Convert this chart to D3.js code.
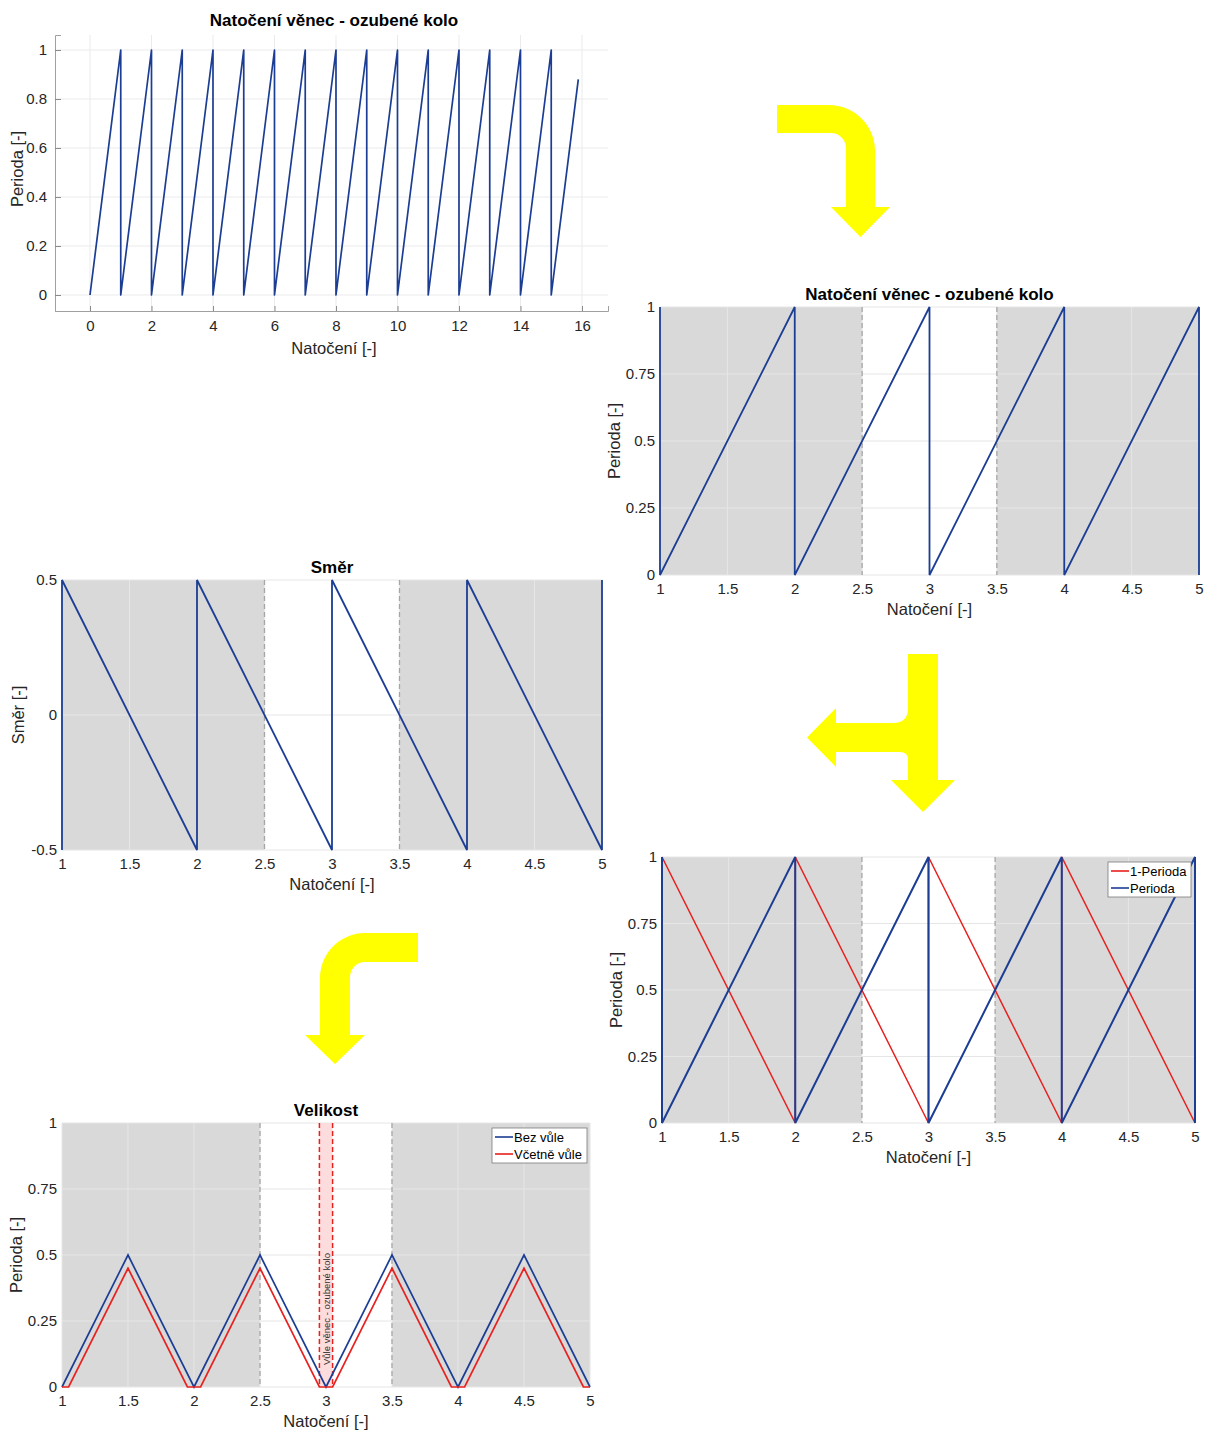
<!DOCTYPE html>
<html>
<head>
<meta charset="utf-8">
<script src="https://cdn.jsdelivr.net/npm/d3@7"></script>
<style>
  body { margin: 0; background: #fff; }
  text { font-family: "Liberation Sans", Arial, sans-serif; }
</style>
</head>
<body>
<svg id="fig" width="1206" height="1435"></svg>
<script>
// ---------- tick values ----------
const rotationTicksLong = [0, 2, 4, 6, 8, 10, 12, 14, 16];
const periodTicksLong = [0, 0.2, 0.4, 0.6, 0.8, 1];
const rotationTicks = [1, 1.5, 2, 2.5, 3, 3.5, 4, 4.5, 5];
const periodTicks = [0, 0.25, 0.5, 0.75, 1];
const directionTicks = [-0.5, 0, 0.5];

// ---------- series (rotation, value) ----------
const periodAll = [
  [0, 0], [1, 1], [1, 0], [2, 1], [2, 0], [3, 1], [3, 0], [4, 1], [4, 0],
  [5, 1], [5, 0], [6, 1], [6, 0], [7, 1], [7, 0], [8, 1], [8, 0], [9, 1], [9, 0],
  [10, 1], [10, 0], [11, 1], [11, 0], [12, 1], [12, 0], [13, 1], [13, 0],
  [14, 1], [14, 0], [15, 1], [15, 0], [15.88, 0.88]
];
const periodWindow = [
  [1, 1], [1, 0], [2, 1], [2, 0], [3, 1], [3, 0], [4, 1], [4, 0], [5, 1], [5, 0]
];
const direction = [
  [1, -0.5], [1, 0.5], [2, -0.5], [2, 0.5], [3, -0.5], [3, 0.5],
  [4, -0.5], [4, 0.5], [5, -0.5], [5, 0.5]
];
const oneMinusPeriod = [
  [1, 0], [1, 1], [2, 0], [2, 1], [3, 0], [3, 1], [4, 0], [4, 1], [5, 0]
];
const magnitudeNoPlay = [
  [1, 0], [1.5, 0.5], [2, 0], [2.5, 0.5], [3, 0], [3.5, 0.5], [4, 0], [4.5, 0.5], [5, 0]
];
const magnitudeWithPlay = [
  [1, 0], [1.05, 0], [1.5, 0.45], [1.95, 0], [2.05, 0], [2.5, 0.45], [2.95, 0],
  [3.05, 0], [3.5, 0.45], [3.95, 0], [4.05, 0], [4.5, 0.45], [4.95, 0], [5, 0]
];

// ---------- regions ----------
const shadedSpans = [[1, 2.5], [3.5, 5]];
const spanEdges = [2.5, 3.5];
const playZone = [2.95, 3.05];

// ---------- styles ----------
const BLUE = "#1b3d93";
const RED = "#e8201e";
const SHADE = "#d9d9d9";
const YELLOW = "#ffff00";
const FONT = '"Liberation Sans", Arial, sans-serif';

const svg = d3.select("#fig");
svg.append("rect").attr("width", 1206).attr("height", 1435).attr("fill", "#fff");

const fmt = d => String(d);

function styleAxis(a, showDomain) {
  a.select(".domain").attr("stroke", showDomain ? "#a0a0a0" : "none");
  a.selectAll(".tick line").attr("stroke", "#8a8a8a");
  a.selectAll("text").attr("fill", "#262626").style("font-size", "15px").style("font-family", FONT);
}

// Windowed panel with shaded spans over rotation 1..5
function panel(cfg) {
  const x = d3.scaleLinear().domain(cfg.xDomain).range([cfg.left, cfg.right]);
  const y = d3.scaleLinear().domain(cfg.yDomain).range([cfg.bottom, cfg.top]);
  const g = svg.append("g");
  const line = d3.line().x(d => x(d[0])).y(d => y(d[1]));

  g.selectAll(".span").data(shadedSpans).join("rect")
    .attr("x", d => x(d[0])).attr("width", d => x(d[1]) - x(d[0]))
    .attr("y", cfg.top).attr("height", cfg.bottom - cfg.top)
    .attr("fill", SHADE);

  g.append("g").selectAll("line").data(cfg.xTicks).join("line")
    .attr("x1", d => x(d)).attr("x2", d => x(d))
    .attr("y1", cfg.top).attr("y2", cfg.bottom)
    .attr("stroke", "#e6e6e6").attr("stroke-width", 1);
  g.append("g").selectAll("line").data(cfg.yTicks).join("line")
    .attr("x1", cfg.left).attr("x2", cfg.right)
    .attr("y1", d => y(d)).attr("y2", d => y(d))
    .attr("stroke", "#e6e6e6").attr("stroke-width", 1);

  g.selectAll(".edge").data(spanEdges).join("line")
    .attr("x1", d => x(d)).attr("x2", d => x(d))
    .attr("y1", cfg.top).attr("y2", cfg.bottom)
    .attr("stroke", "#a6a6a6").attr("stroke-width", 1.3)
    .attr("stroke-dasharray", "5,3");

  const ax = g.append("g").attr("transform", `translate(0,${cfg.bottom})`)
    .call(d3.axisBottom(x).tickValues(cfg.xTicks).tickFormat(fmt).tickSize(0).tickPadding(8));
  const ay = g.append("g").attr("transform", `translate(${cfg.left},0)`)
    .call(d3.axisLeft(y).tickValues(cfg.yTicks).tickFormat(fmt).tickSize(0).tickPadding(5));
  styleAxis(ax, false);
  styleAxis(ay, false);

  g.append("text").attr("x", (cfg.left + cfg.right) / 2).attr("y", cfg.bottom + 40)
    .attr("text-anchor", "middle").attr("fill", "#262626").style("font-size", "16.5px")
    .text(cfg.xLabel);
  g.append("text")
    .attr("transform", `translate(${cfg.left - cfg.yLabelOffset},${(cfg.top + cfg.bottom) / 2}) rotate(-90)`)
    .attr("text-anchor", "middle").attr("fill", "#262626").style("font-size", "16.5px")
    .text(cfg.yLabel);

  if (cfg.title) {
    g.append("text").attr("x", (cfg.left + cfg.right) / 2).attr("y", cfg.titleY)
      .attr("text-anchor", "middle").attr("fill", "#000")
      .style("font-size", "17px").style("font-weight", "bold")
      .text(cfg.title);
  }
  return { g, x, y, line };
}

function legend(g, lx, ly, w, h, items) {
  const lg = g.append("g");
  lg.append("rect").attr("x", lx).attr("y", ly).attr("width", w).attr("height", h)
    .attr("fill", "#fff").attr("stroke", "#7a7a7a").attr("stroke-width", 0.8);
  items.forEach((it, i) => {
    const yy = ly + 9 + i * 17;
    lg.append("line").attr("x1", lx + 3).attr("x2", lx + 21).attr("y1", yy).attr("y2", yy)
      .attr("stroke", it[1]).attr("stroke-width", 1.6);
    lg.append("text").attr("x", lx + 22).attr("y", yy + 4.5).attr("fill", "#000")
      .style("font-size", "13px").text(it[0]);
  });
}

// ---------- panel 1: period over the full rotation range ----------
{
  const left = 55, right = 608, top = 35, bottom = 311;
  const x = d3.scaleLinear().domain([-1.138, 16.846]).range([left, right]);
  const y = d3.scaleLinear().domain([-0.0653, 1.0612]).range([bottom, top]);
  const g = svg.append("g");
  g.append("g").selectAll("line").data(rotationTicksLong).join("line")
    .attr("x1", d => x(d)).attr("x2", d => x(d)).attr("y1", top).attr("y2", bottom)
    .attr("stroke", "#ebebeb");
  g.append("g").selectAll("line").data(periodTicksLong).join("line")
    .attr("x1", left).attr("x2", right).attr("y1", d => y(d)).attr("y2", d => y(d))
    .attr("stroke", "#ebebeb");
  const ax = g.append("g").attr("transform", `translate(0,${bottom})`)
    .call(d3.axisBottom(x).tickValues(rotationTicksLong).tickFormat(fmt).tickSize(-5).tickPadding(9));
  const ay = g.append("g").attr("transform", `translate(${left},0)`)
    .call(d3.axisLeft(y).tickValues(periodTicksLong).tickFormat(fmt).tickSize(-6).tickPadding(8));
  styleAxis(ax, true);
  styleAxis(ay, true);
  g.append("text").attr("x", 334).attr("y", 354).attr("text-anchor", "middle")
    .attr("fill", "#262626").style("font-size", "16.5px").text("Natočení [-]");
  g.append("text").attr("transform", "translate(23,169) rotate(-90)")
    .attr("text-anchor", "middle").attr("fill", "#262626").style("font-size", "16.5px")
    .text("Perioda [-]");
  g.append("text").attr("x", 334).attr("y", 26).attr("text-anchor", "middle")
    .style("font-size", "17px").style("font-weight", "bold").text("Natočení věnec - ozubené kolo");
  const line = d3.line().x(d => x(d[0])).y(d => y(d[1]));
  g.append("path").attr("d", line(periodAll)).attr("fill", "none")
    .attr("stroke", BLUE).attr("stroke-width", 1.7).attr("stroke-linejoin", "round");
}

// ---------- panel 2: period over one window ----------
{
  const p = panel({
    left: 660, right: 1199, top: 307, bottom: 575,
    xDomain: [1, 5], yDomain: [0, 1], xTicks: rotationTicks, yTicks: periodTicks,
    title: "Natočení věnec - ozubené kolo", titleY: 300,
    xLabel: "Natočení [-]", yLabel: "Perioda [-]", yLabelOffset: 40
  });
  p.g.append("path").attr("d", p.line(periodWindow)).attr("fill", "none")
    .attr("stroke", BLUE).attr("stroke-width", 1.8);
}

// ---------- panel 3: direction ----------
{
  const p = panel({
    left: 62, right: 602, top: 580, bottom: 850,
    xDomain: [1, 5], yDomain: [-0.5, 0.5], xTicks: rotationTicks, yTicks: directionTicks,
    title: "Směr", titleY: 573,
    xLabel: "Natočení [-]", yLabel: "Směr [-]", yLabelOffset: 38
  });
  p.g.append("path").attr("d", p.line(direction)).attr("fill", "none")
    .attr("stroke", BLUE).attr("stroke-width", 1.8);
}

// ---------- panel 4: period and its complement ----------
{
  const p = panel({
    left: 662, right: 1195, top: 857, bottom: 1123,
    xDomain: [1, 5], yDomain: [0, 1], xTicks: rotationTicks, yTicks: periodTicks,
    xLabel: "Natočení [-]", yLabel: "Perioda [-]", yLabelOffset: 40
  });
  p.g.append("path").attr("d", p.line(oneMinusPeriod)).attr("fill", "none")
    .attr("stroke", RED).attr("stroke-width", 1.5);
  p.g.append("path").attr("d", p.line(periodWindow)).attr("fill", "none")
    .attr("stroke", BLUE).attr("stroke-width", 2);
  legend(p.g, 1108, 862, 83, 35, [["1-Perioda", RED], ["Perioda", BLUE]]);
}

// ---------- panel 5: magnitude with and without play ----------
{
  const p = panel({
    left: 62, right: 590, top: 1123, bottom: 1387,
    xDomain: [1, 5], yDomain: [0, 1], xTicks: rotationTicks, yTicks: periodTicks,
    title: "Velikost", titleY: 1116,
    xLabel: "Natočení [-]", yLabel: "Perioda [-]", yLabelOffset: 40
  });
  const { g, x, y } = p;
  g.append("rect").attr("x", x(playZone[0])).attr("width", x(playZone[1]) - x(playZone[0]))
    .attr("y", y(1)).attr("height", y(0) - y(1)).attr("fill", "#fcdcdc");
  g.selectAll(".play").data(playZone).join("line")
    .attr("x1", d => x(d)).attr("x2", d => x(d)).attr("y1", y(1)).attr("y2", y(0))
    .attr("stroke", RED).attr("stroke-width", 1.5).attr("stroke-dasharray", "5,3");
  const mid = (playZone[0] + playZone[1]) / 2;
  g.append("text")
    .attr("transform", `translate(${x(mid) + 3.5},${y(0) - 22}) rotate(-90)`)
    .attr("fill", "#333").style("font-size", "9.5px")
    .text("Vůle věnec - ozubené kolo");
  g.append("path").attr("d", p.line(magnitudeNoPlay)).attr("fill", "none")
    .attr("stroke", BLUE).attr("stroke-width", 1.7);
  g.append("path").attr("d", p.line(magnitudeWithPlay)).attr("fill", "none")
    .attr("stroke", RED).attr("stroke-width", 1.7);
  legend(g, 492, 1128, 95, 35, [["Bez vůle", BLUE], ["Včetně vůle", RED]]);
}

// ---------- flow arrows between the panels ----------
const arrows = [
  "M777,105 L829,105 A46,46 0 0 1 875,151 L875,207 L890,207 L860.5,237 L831,207 L846,207 L846,148 A15,15 0 0 0 831,133 L777,133 Z",
  "M908,654 L938,654 L938,780 L955,780 L923,812 L891,780 L908,780 L908,760 Q908,752 900,752 L836,752 L836,767 L807,737.5 L836,708 L836,723 L893,723 Q908,723 908,708 Z",
  "M418,933 L365,933 A45,45 0 0 0 320,978 L320,1035 L305,1035 L335,1064 L365,1035 L350,1035 L350,977 A15,15 0 0 1 365,962 L418,962 Z"
];
svg.append("g").selectAll("path").data(arrows).join("path")
  .attr("d", d => d).attr("fill", YELLOW);
</script>
</body>
</html>
